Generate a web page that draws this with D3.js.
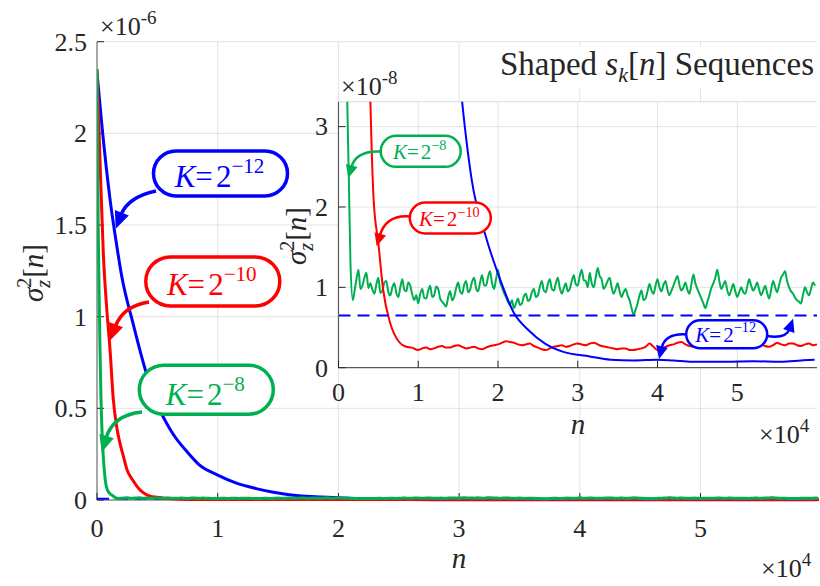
<!DOCTYPE html>
<html>
<head>
<meta charset="utf-8">
<script src="https://cdn.jsdelivr.net/npm/d3@7"></script>
<style>
  body { margin: 0; background: #fff; }
  svg text { font-family: "Liberation Serif", "Times New Roman", serif; fill: #262626; }
</style>
</head>
<body>
<svg id="chart" width="820" height="586"></svg>
<script>
// n is in units of 1e4 samples, variance in units of 1e-8
const xTicks = [0, 1, 2, 3, 4, 5];
const mainYTicks = [0, 0.5, 1, 1.5, 2, 2.5];   // x 1e-6
const insetYTicks = [0, 1, 2, 3];              // x 1e-8
const floorLevel = 0.65;                       // dashed reference line

// K = 2^-12
const blueCurve = [[0, 233], [0.044, 202], [0.108, 164], [0.163, 139], [0.205, 122], [0.30, 96],
  [0.41, 69], [0.522, 49], [0.63, 36], [0.75, 26], [0.85, 19], [1.0, 13.6], [1.15, 9.3],
  [1.32, 6.2], [1.45, 4.4], [1.55, 3.31], [1.67, 2.34], [1.86, 1.59], [2.03, 1.09], [2.20, 0.68],
  [2.38, 0.47], [2.59, 0.30], [2.81, 0.20], [3.15, 0.14], [3.41, 0.10], [3.7, 0.09], [4.0, 0.10],
  [4.2, 0.09], [4.43, 0.075], [4.86, 0.075], [5.2, 0.08], [5.55, 0.075], [5.8, 0.09], [5.97, 0.10]];

// K = 2^-10
const redCurve = [[0, 235], [0.025, 185], [0.052, 135], [0.08, 105], [0.108, 82], [0.135, 55],
  [0.163, 40], [0.19, 31], [0.218, 24], [0.246, 17], [0.30, 10.5], [0.356, 5.5], [0.40, 3.31],
  [0.44, 2.1], [0.50, 1.55], [0.56, 0.97], [0.65, 0.55], [0.76, 0.32], [0.85, 0.26], [0.92, 0.25]];
// steady part, one value every 0.05 (x1e4) starting at n = 1.0
const redTail = [
  0.22, 0.24, 0.25, 0.23, 0.24, 0.26, 0.27, 0.25, 0.25, 0.27,
  0.28, 0.26, 0.24, 0.25, 0.26, 0.24, 0.23, 0.25, 0.27, 0.28,
  0.29, 0.31, 0.33, 0.32, 0.31, 0.29, 0.28, 0.29, 0.30, 0.27,
  0.25, 0.23, 0.22, 0.24, 0.26, 0.27, 0.28, 0.26, 0.27, 0.29,
  0.30, 0.29, 0.28, 0.30, 0.31, 0.29, 0.27, 0.26, 0.25, 0.24,
  0.23, 0.24, 0.24, 0.22, 0.22, 0.23, 0.24, 0.26, 0.30, 0.26,
  0.22, 0.24, 0.26, 0.28, 0.29, 0.31, 0.32, 0.29, 0.27, 0.26,
  0.25, 0.27, 0.28, 0.26, 0.26, 0.28, 0.29, 0.27, 0.27, 0.26,
  0.25, 0.28, 0.30, 0.28, 0.27, 0.28, 0.29, 0.27, 0.26, 0.28,
  0.31, 0.29, 0.28, 0.30, 0.30, 0.28, 0.27, 0.29, 0.30, 0.28, 0.29];

// K = 2^-8
const greenCurve = [[0, 235], [0.005, 190], [0.01, 150], [0.018, 110], [0.025, 82], [0.033, 55],
  [0.04, 40], [0.052, 24], [0.065, 13], [0.075, 8], [0.09, 5], [0.11, 3.31], [0.13, 2.34],
  [0.15, 1.3], [0.18, 0.84]];
// steady part, one value every 0.025 (x1e4) starting at n = 0.2
const greenTail = [
  0.95, 1.10, 1.22, 0.98, 1.02, 1.12, 1.18, 0.99, 1.05, 0.97,
  0.92, 1.04, 1.12, 0.93, 0.96, 1.06, 1.08, 0.94, 0.90, 1.00,
  1.05, 0.93, 0.88, 1.00, 1.10, 0.97, 0.95, 1.06, 1.02, 0.91,
  0.84, 0.90, 0.80, 0.92, 0.98, 0.87, 0.86, 0.96, 1.02, 0.88,
  0.90, 1.01, 0.98, 0.86, 0.82, 0.79, 0.76, 0.88, 0.95, 0.84,
  0.88, 0.99, 1.06, 0.95, 0.92, 1.03, 1.08, 0.94, 0.97, 1.07,
  1.12, 0.99, 0.95, 1.06, 1.15, 1.03, 1.02, 1.13, 1.20, 1.05,
  0.98, 1.10, 1.22, 1.07, 1.00, 0.93, 0.88, 0.82, 0.78, 0.84,
  0.74, 0.80, 0.86, 0.78, 0.80, 0.89, 0.92, 0.83, 0.85, 0.94,
  0.98, 0.88, 0.90, 1.01, 1.08, 0.96, 0.94, 1.04, 1.10, 0.98,
  0.96, 1.05, 1.12, 0.99, 0.92, 0.99, 1.05, 0.95, 0.98, 1.08,
  1.15, 1.04, 1.02, 1.14, 1.22, 1.09, 1.08, 1.00, 1.18, 1.05,
  1.00, 1.12, 1.24, 1.14, 1.10, 0.98, 1.02, 1.08, 1.12, 1.00,
  0.92, 0.98, 1.05, 0.95, 0.88, 0.94, 0.98, 0.90, 0.84, 0.74,
  0.66, 0.72, 0.80, 0.90, 0.96, 0.84, 0.86, 0.95, 1.04, 0.96,
  0.92, 1.02, 1.10, 1.00, 0.95, 1.03, 1.08, 0.97, 0.90, 0.96,
  1.02, 1.09, 1.14, 1.03, 0.96, 1.00, 1.06, 0.97, 0.92, 1.04,
  1.16, 1.05, 0.98, 0.92, 0.86, 0.80, 0.74, 0.82, 0.90, 0.99,
  1.05, 1.12, 1.22, 1.08, 0.98, 1.03, 1.08, 0.96, 0.90, 0.97,
  1.04, 0.95, 0.88, 0.94, 1.00, 0.94, 0.92, 1.01, 1.10, 1.02,
  0.96, 1.00, 1.06, 0.97, 0.90, 0.96, 1.02, 0.93, 0.86, 0.97,
  1.08, 1.00, 0.94, 1.03, 1.12, 1.16, 1.20, 1.08, 1.00, 0.95,
  0.92, 0.87, 0.84, 0.82, 0.80, 0.91, 1.00, 0.94, 0.90, 0.98,
  1.06, 1.02];

const colors = { blue: "#0000ff", red: "#ff0000", green: "#00b050" };

const blueData = blueCurve;
const redData = redCurve.concat(redTail.map((v, i) => [1.0 + i * 0.05, v]));
const greenData = greenCurve.concat(greenTail.map((v, i) => [0.2 + i * 0.025, v]));

const svg = d3.select("#chart");

// ---------------- main axes ----------------
const x = d3.scaleLinear().domain([0, 5.965]).range([97, 817]);
const y = d3.scaleLinear().domain([0, 250]).range([500, 41.7]);

const main = svg.append("g");

main.append("defs").append("clipPath").attr("id", "clipMain")
  .append("rect").attr("x", 97).attr("y", 40).attr("width", 722).attr("height", 463);

// grid
main.append("g").selectAll("line").data(xTicks.slice(1)).join("line")
  .attr("x1", d => x(d)).attr("x2", d => x(d)).attr("y1", 41.7).attr("y2", 500)
  .attr("stroke", "#e3e3e3").attr("stroke-width", 1);
main.append("g").selectAll("line").data(mainYTicks.slice(1)).join("line")
  .attr("x1", 97).attr("x2", 817).attr("y1", d => y(d * 100)).attr("y2", d => y(d * 100))
  .attr("stroke", "#e3e3e3").attr("stroke-width", 1);

// axis lines + ticks
main.append("line").attr("x1", 97).attr("x2", 97).attr("y1", 41.7).attr("y2", 500)
  .attr("stroke", "#8a8a8a").attr("stroke-width", 1.5);
main.append("line").attr("x1", 97).attr("x2", 817).attr("y1", 500).attr("y2", 500)
  .attr("stroke", "#8a8a8a").attr("stroke-width", 1.5);
main.append("g").selectAll("line").data(mainYTicks).join("line")
  .attr("x1", 97).attr("x2", 104).attr("y1", d => y(d * 100)).attr("y2", d => y(d * 100))
  .attr("stroke", "#262626");
main.append("g").selectAll("line").data(xTicks).join("line")
  .attr("x1", d => x(d)).attr("x2", d => x(d)).attr("y1", 500).attr("y2", 493)
  .attr("stroke", "#262626");

main.append("g").selectAll("text").data(mainYTicks).join("text")
  .attr("x", 87).attr("y", d => y(d * 100)).attr("dy", "0.34em")
  .attr("text-anchor", "end").style("font-size", "26px").text(d => d);
main.append("g").selectAll("text").data(xTicks).join("text")
  .attr("x", d => x(d)).attr("y", 537)
  .attr("text-anchor", "middle").style("font-size", "26px").text(d => d);

// exponents
const expY = main.append("text").attr("x", 100).attr("y", 35).style("font-size", "26px");
expY.append("tspan").text("\u00d710");
expY.append("tspan").attr("dy", -11).style("font-size", "19px").text("-6");
const expX = main.append("text").attr("x", 761).attr("y", 577).style("font-size", "26px");
expX.append("tspan").text("\u00d710");
expX.append("tspan").attr("dy", -11).style("font-size", "19px").text("4");

// labels
main.append("text").attr("x", 459).attr("y", 568).attr("text-anchor", "middle")
  .style("font-size", "29px").style("font-style", "italic").text("n");

function sigmaLabel(g, cx, cy) {
  const t = g.append("text")
    .attr("transform", `translate(${cx},${cy}) rotate(-90)`)
    .attr("text-anchor", "middle").style("font-size", "29px");
  t.append("tspan").style("font-style", "italic").text("\u03c3");
  t.append("tspan").attr("dy", -12).style("font-size", "20px").text("2");
  t.append("tspan").attr("dx", -10).attr("dy", 19).style("font-size", "20px").style("font-style", "italic").text("z");
  t.append("tspan").attr("dx", 2).attr("dy", -7).text("[");
  t.append("tspan").style("font-style", "italic").text("n");
  t.append("tspan").text("]");
}
sigmaLabel(main, 43, 273);

// lines
const lineMain = d3.line().x(d => x(d[0])).y(d => y(d[1])).curve(d3.curveMonotoneX);
const mainLines = main.append("g").attr("clip-path", "url(#clipMain)");
mainLines.append("line")
  .attr("x1", x(0)).attr("x2", x(5.965)).attr("y1", y(floorLevel)).attr("y2", y(floorLevel))
  .attr("stroke", colors.blue).attr("stroke-width", 2).attr("stroke-dasharray", "12,7");
[[blueData, colors.blue], [redData, colors.red], [greenData, colors.green]].forEach(([d, c]) => {
  mainLines.append("path").datum(d).attr("d", lineMain)
    .attr("fill", "none").attr("stroke", c).attr("stroke-width", 3).attr("stroke-linejoin", "round");
});

// ---------------- annotations ----------------
function bubble(g, o) {
  g.append("rect")
    .attr("x", o.cx - o.w / 2).attr("y", o.cy - o.h / 2)
    .attr("width", o.w).attr("height", o.h).attr("rx", o.h / 2).attr("ry", o.h / 2)
    .attr("fill", "#fff").attr("stroke", o.color).attr("stroke-width", o.sw);
  const t = g.append("text").attr("x", o.cx - 1).attr("y", o.cy + o.base)
    .attr("text-anchor", "middle").style("font-size", o.fs + "px").style("fill", o.color);
  t.append("tspan").style("font-style", "italic").style("fill", o.color).text("K");
  t.append("tspan").style("fill", o.color).text("=");
  t.append("tspan").attr("dx", o.fs * 0.1).style("fill", o.color).text("2");
  t.append("tspan").attr("dy", -o.fs * 0.45).style("font-size", (o.fs * 0.68) + "px")
    .style("fill", o.color).text(o.exp);
}

function arrow(g, o) {
  const [tx, ty] = o.tip;
  const [cx, cy] = o.ctrl;
  const len = Math.hypot(tx - cx, ty - cy);
  const ux = (tx - cx) / len, uy = (ty - cy) / len;
  const bx = tx - ux * o.head, by = ty - uy * o.head;
  g.append("path")
    .attr("d", `M${o.start[0]},${o.start[1]} Q${cx},${cy} ${bx + ux * 2},${by + uy * 2}`)
    .attr("fill", "none").attr("stroke", o.color).attr("stroke-width", o.sw);
  const px = -uy * o.half, py = ux * o.half;
  g.append("path")
    .attr("d", `M${tx},${ty} L${bx + px},${by + py} L${bx - px},${by - py} Z`)
    .attr("fill", o.color);
}

const ann = svg.append("g");
// main plot callouts (tips given in data coordinates)
arrow(ann, { start: [156, 191], ctrl: [128, 197], tip: [x(0.155), y(148)], color: colors.blue, sw: 3.5, head: 17, half: 7.5 });
arrow(ann, { start: [149, 302], ctrl: [123, 306], tip: [x(0.108), y(87)], color: colors.red, sw: 3.5, head: 17, half: 7.5 });
arrow(ann, { start: [142, 412], ctrl: [113, 415], tip: [x(0.039), y(26)], color: colors.green, sw: 3.5, head: 17, half: 7.5 });
bubble(ann, { cx: 220.5, cy: 173.4, w: 134, h: 45, color: colors.blue, exp: "\u221212", fs: 31, sw: 3.5, base: 13.5 });
bubble(ann, { cx: 212.8, cy: 281.4, w: 134, h: 49, color: colors.red, exp: "\u221210", fs: 31, sw: 3.5, base: 14 });
bubble(ann, { cx: 206.3, cy: 389.7, w: 134, h: 49, color: colors.green, exp: "\u22128", fs: 31, sw: 3.5, base: 15 });

// ---------------- inset axes ----------------
const xi = d3.scaleLinear().domain([0, 6.0]).range([338.5, 817]);
const yi = d3.scaleLinear().domain([0, 3.31]).range([367.7, 101.7]);

const inset = svg.append("g");
inset.append("defs").append("clipPath").attr("id", "clipInset")
  .append("rect").attr("x", 338.5).attr("y", 101.7).attr("width", 480).attr("height", 268);

inset.append("rect").attr("x", 338.5).attr("y", 101.7).attr("width", 478.5).attr("height", 266)
  .attr("fill", "#fff");
inset.append("line").attr("x1", 338.5).attr("x2", 817).attr("y1", 101.7).attr("y2", 101.7)
  .attr("stroke", "#dcdcdc");
inset.append("g").selectAll("line").data(xTicks.slice(1)).join("line")
  .attr("x1", d => xi(d)).attr("x2", d => xi(d)).attr("y1", 101.7).attr("y2", 367.7)
  .attr("stroke", "#e3e3e3");
inset.append("g").selectAll("line").data(insetYTicks.slice(1)).join("line")
  .attr("x1", 338.5).attr("x2", 817).attr("y1", d => yi(d)).attr("y2", d => yi(d))
  .attr("stroke", "#e3e3e3");

const lineInset = d3.line().x(d => xi(d[0])).y(d => yi(d[1])).curve(d3.curveMonotoneX);
const insetLines = inset.append("g").attr("clip-path", "url(#clipInset)");
[[greenData, colors.green], [redData, colors.red], [blueData, colors.blue]].forEach(([d, c]) => {
  insetLines.append("path").datum(d).attr("d", lineInset)
    .attr("fill", "none").attr("stroke", c).attr("stroke-width", 2).attr("stroke-linejoin", "round");
});
insetLines.append("line")
  .attr("x1", xi(0)).attr("x2", xi(6)).attr("y1", yi(floorLevel)).attr("y2", yi(floorLevel))
  .attr("stroke", colors.blue).attr("stroke-width", 2).attr("stroke-dasharray", "12,7");

inset.append("line").attr("x1", 338.5).attr("x2", 338.5).attr("y1", 101.7).attr("y2", 367.7)
  .attr("stroke", "#5a5a5a").attr("stroke-width", 1.2);
inset.append("line").attr("x1", 338.5).attr("x2", 817).attr("y1", 367.7).attr("y2", 367.7)
  .attr("stroke", "#5a5a5a").attr("stroke-width", 1.2);
inset.append("g").selectAll("line").data(insetYTicks).join("line")
  .attr("x1", 338.5).attr("x2", 345.5).attr("y1", d => yi(d)).attr("y2", d => yi(d))
  .attr("stroke", "#262626");
inset.append("g").selectAll("line").data(xTicks).join("line")
  .attr("x1", d => xi(d)).attr("x2", d => xi(d)).attr("y1", 367.7).attr("y2", 360.7)
  .attr("stroke", "#262626");

inset.append("g").selectAll("text").data(insetYTicks).join("text")
  .attr("x", 328).attr("y", d => yi(d)).attr("dy", "0.34em")
  .attr("text-anchor", "end").style("font-size", "26px").text(d => d);
inset.append("g").selectAll("text").data(xTicks).join("text")
  .attr("x", d => xi(d)).attr("y", 401)
  .attr("text-anchor", "middle").style("font-size", "26px").text(d => d);

const expYi = inset.append("text").attr("x", 341).attr("y", 95).style("font-size", "26px");
expYi.append("tspan").text("\u00d710");
expYi.append("tspan").attr("dy", -11).style("font-size", "19px").text("-8");
const expXi = inset.append("text").attr("x", 759).attr("y", 443).style("font-size", "26px");
expXi.append("tspan").text("\u00d710");
expXi.append("tspan").attr("dy", -11).style("font-size", "19px").text("4");

inset.append("text").attr("x", 578).attr("y", 434).attr("text-anchor", "middle")
  .style("font-size", "29px").style("font-style", "italic").text("n");
sigmaLabel(inset, 306, 236);

// inset callouts
const annI = svg.append("g");
arrow(annI, { start: [381, 151.5], ctrl: [356, 150], tip: [xi(0.123), yi(2.36)], color: colors.green, sw: 2.5, head: 13, half: 6 });
arrow(annI, { start: [411, 216.5], ctrl: [386, 214], tip: [xi(0.479), yi(1.51)], color: colors.red, sw: 2.5, head: 13, half: 6 });
arrow(annI, { start: [687, 334.5], ctrl: [665, 333], tip: [xi(4.02), yi(0.108)], color: colors.blue, sw: 2.5, head: 13, half: 6 });
arrow(annI, { start: [767, 336], ctrl: [786, 339], tip: [xi(5.70), yi(0.61)], color: colors.blue, sw: 2.5, head: 13, half: 6 });
bubble(annI, { cx: 420.7, cy: 151.3, w: 80, h: 31, color: colors.green, exp: "\u22128", fs: 21, sw: 2.5, base: 8 });
bubble(annI, { cx: 450.3, cy: 218, w: 81, h: 31, color: colors.red, exp: "\u221210", fs: 21, sw: 2.5, base: 8 });
bubble(annI, { cx: 726.7, cy: 334.2, w: 81, h: 28, color: colors.blue, exp: "\u221212", fs: 21, sw: 2.5, base: 7.5 });

// ---------------- title ----------------
svg.append("rect").attr("x", 495).attr("y", 47).attr("width", 322).attr("height", 41).attr("fill", "#fff");
const title = svg.append("text").attr("x", 814).attr("y", 75).attr("text-anchor", "end")
  .style("font-size", "33px");
title.append("tspan").text("Shaped ");
title.append("tspan").style("font-style", "italic").text("s");
title.append("tspan").attr("dy", 7).style("font-size", "22px").style("font-style", "italic").text("k");
title.append("tspan").attr("dy", -7).text("[");
title.append("tspan").style("font-style", "italic").text("n");
title.append("tspan").text("] Sequences");
</script>
</body>
</html>
